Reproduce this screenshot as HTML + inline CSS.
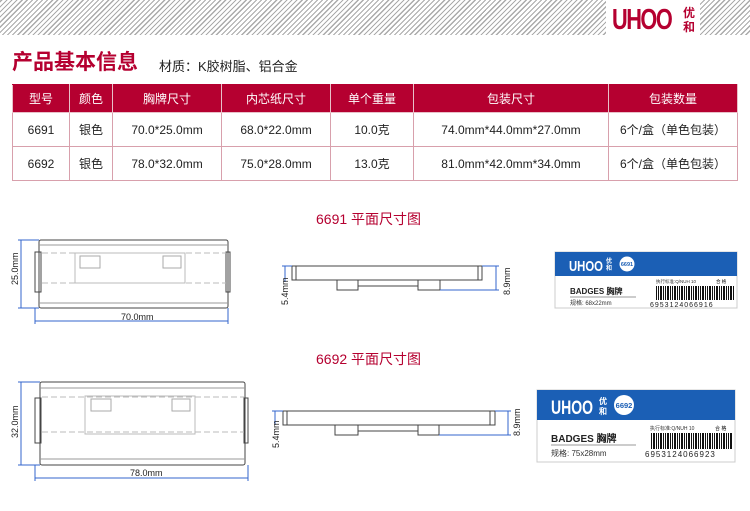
<!DOCTYPE html>
<html><head><meta charset="utf-8"><style>
body{margin:0;width:750px;height:511px;background:#fff;position:relative;overflow:hidden;font-family:"Liberation Sans","Noto Sans CJK SC",sans-serif}
.a{position:absolute}
table{position:absolute;left:12px;top:84px;border-collapse:collapse;font-size:12px;color:#222}
td{border:1px solid #d8a0ac;text-align:center;padding:0}
tr.h td{background:#b50030;color:#fff;height:27px;border-color:#e8c0c8;border-top-color:#b50030}
tr.r td{height:33px}
.t{color:#b50030;font-size:14px}
</style></head><body>
<div class="a" style="left:0;top:0;width:750px;height:35px;background:repeating-linear-gradient(-45deg,#fff 0 2.4px,#aaa 2.4px 3.6px)"></div>
<div class="a" style="left:606px;top:0;width:94px;height:36px;background:#fff"></div>
<div class="a" style="left:612px;top:4px;font-size:29px;font-weight:bold;color:#b50030;letter-spacing:-2px;transform:scaleX(0.75);transform-origin:left;line-height:32px">UHOO</div>
<div class="a" style="left:683px;top:6px;font-size:12px;font-weight:bold;color:#b50030;line-height:14px;width:13px">优和</div>
<div class="a" style="left:12px;top:46px;font-size:21px;font-weight:bold;color:#b50030">产品基本信息</div>
<div class="a" style="left:159px;top:56px;font-size:13px;color:#222">材质：K胶树脂、铝合金</div>
<table>
<tr class="h"><td style="width:56px">型号</td><td style="width:42px">颜色</td><td style="width:108px">胸牌尺寸</td><td style="width:108px">内芯纸尺寸</td><td style="width:82px">单个重量</td><td style="width:194px">包装尺寸</td><td style="width:128px">包装数量</td></tr>
<tr class="r"><td>6691</td><td>银色</td><td>70.0*25.0mm</td><td>68.0*22.0mm</td><td>10.0克</td><td>74.0mm*44.0mm*27.0mm</td><td>6个/盒（单色包装）</td></tr>
<tr class="r"><td>6692</td><td>银色</td><td>78.0*32.0mm</td><td>75.0*28.0mm</td><td>13.0克</td><td>81.0mm*42.0mm*34.0mm</td><td>6个/盒（单色包装）</td></tr>
</table>
<div class="a t" style="left:316px;top:209px">6691 平面尺寸图</div>
<div class="a t" style="left:316px;top:349px">6692 平面尺寸图</div>
<svg class="a" style="left:0;top:0" width="750" height="511" font-family="Liberation Sans" font-size="9">
<defs><pattern id="bc" width="7" height="10" patternUnits="userSpaceOnUse"><rect x="0" width="1" height="10" fill="#111"/><rect x="2" width="2" height="10" fill="#111"/><rect x="5" width="1" height="10" fill="#111"/></pattern></defs>
<g fill="none" stroke="#444" stroke-width="1">
<rect x="39" y="240" width="189" height="68" rx="2"/>
<line x1="39" y1="245" x2="228" y2="245" stroke="#999"/><line x1="39" y1="303" x2="228" y2="303" stroke="#999"/>
<rect x="35" y="252" width="6" height="40"/><rect x="226" y="252" width="4" height="40"/>
<line x1="42" y1="253" x2="226" y2="253" stroke="#bbb" stroke-dasharray="6 3"/><line x1="42" y1="283" x2="226" y2="283" stroke="#bbb" stroke-dasharray="6 3"/>
<rect x="75" y="253" width="110" height="30" stroke="#bbb"/><rect x="80" y="256" width="20" height="12" stroke="#aaa"/><rect x="163" y="256" width="18" height="12" stroke="#aaa"/>
<rect x="40" y="382" width="205" height="83" rx="2"/>
<line x1="40" y1="388" x2="245" y2="388" stroke="#999"/><line x1="40" y1="459" x2="245" y2="459" stroke="#999"/>
<rect x="35" y="398" width="6" height="45"/><rect x="244" y="398" width="4" height="45"/>
<line x1="42" y1="397" x2="244" y2="397" stroke="#bbb" stroke-dasharray="6 3"/><line x1="42" y1="432" x2="244" y2="432" stroke="#bbb" stroke-dasharray="6 3"/>
<rect x="85" y="396" width="110" height="38" stroke="#bbb"/><rect x="91" y="399" width="20" height="12" stroke="#aaa"/><rect x="172" y="399" width="18" height="12" stroke="#aaa"/>
<rect x="292" y="266" width="190" height="14"/><line x1="296" y1="266" x2="296" y2="280"/><line x1="478" y1="266" x2="478" y2="280"/>
<rect x="337" y="280" width="21" height="10"/><rect x="418" y="280" width="22" height="10"/><line x1="358" y1="286" x2="418" y2="286"/>
<rect x="283" y="411" width="212" height="14"/><line x1="287" y1="411" x2="287" y2="425"/><line x1="490" y1="411" x2="490" y2="425"/>
<rect x="335" y="425" width="23" height="10"/><rect x="418" y="425" width="21" height="10"/><line x1="358" y1="431" x2="418" y2="431"/>
</g>
<g stroke="#3366cc" fill="none" stroke-width="1">
<line x1="21" y1="240" x2="21" y2="308"/><line x1="18" y1="240" x2="39" y2="240"/><line x1="18" y1="308" x2="39" y2="308"/>
<line x1="35" y1="321" x2="228" y2="321"/><line x1="35" y1="308" x2="35" y2="324"/><line x1="228" y1="308" x2="228" y2="324"/>
<line x1="21" y1="382" x2="21" y2="465"/><line x1="18" y1="382" x2="40" y2="382"/><line x1="18" y1="465" x2="40" y2="465"/>
<line x1="35" y1="478" x2="248" y2="478"/><line x1="35" y1="465" x2="35" y2="481"/><line x1="248" y1="465" x2="248" y2="481"/>
<line x1="285" y1="266" x2="285" y2="282"/><line x1="282" y1="266" x2="292" y2="266"/>
<line x1="496" y1="266" x2="496" y2="290"/><line x1="440" y1="290" x2="499" y2="290"/><line x1="482" y1="266" x2="499" y2="266"/>
<line x1="275" y1="411" x2="275" y2="425"/><line x1="272" y1="411" x2="283" y2="411"/>
<line x1="508" y1="411" x2="508" y2="435"/><line x1="439" y1="435" x2="511" y2="435"/><line x1="495" y1="411" x2="511" y2="411"/>
</g>
<g fill="#222">
<text x="121" y="320">70.0mm</text><text x="130" y="476">78.0mm</text>
<text transform="translate(18,285) rotate(-90)">25.0mm</text>
<text transform="translate(18,438) rotate(-90)">32.0mm</text>
<text transform="translate(288,305) rotate(-90)">5.4mm</text>
<text transform="translate(279,448) rotate(-90)">5.4mm</text>
<text transform="translate(510,295) rotate(-90)">8.9mm</text>
<text transform="translate(520,436) rotate(-90)">8.9mm</text>
</g>
<rect x="555" y="252" width="182" height="56" fill="#fff" stroke="#ccc"/>
<rect x="555" y="252" width="182" height="24" fill="#1b5fb5"/>
<text x="569" y="271" fill="#fff" font-size="15" font-weight="bold" textLength="34" lengthAdjust="spacingAndGlyphs">UHOO</text>
<text x="606" y="263" fill="#fff" font-size="6" font-weight="bold">优</text><text x="606" y="270" fill="#fff" font-size="6" font-weight="bold">和</text>
<circle cx="627" cy="264" r="7.5" fill="#fff"/><text x="627" y="266" text-anchor="middle" fill="#1b5fb5" font-size="5.5" font-weight="bold">6691</text>
<text x="570" y="294" font-size="8" font-weight="bold" fill="#222">BADGES 胸牌</text>
<line x1="570" y1="297" x2="636" y2="297" stroke="#999"/>
<text x="570" y="305" font-size="6" fill="#333">规格: 68x22mm</text>
<text x="656" y="283" font-size="4.5" fill="#333">执行标准:Q/NUH 10</text><text x="716" y="283" font-size="4.5">合 格</text>
<rect x="656" y="286" width="78" height="14" fill="url(#bc)"/>
<text x="650" y="307" font-size="7" fill="#222" letter-spacing="1">6953124066916</text>
<rect x="537" y="390" width="198" height="72" fill="#fff" stroke="#ccc"/>
<rect x="537" y="390" width="198" height="30" fill="#1b5fb5"/>
<text x="551" y="414" fill="#fff" font-size="19" font-weight="bold" textLength="42" lengthAdjust="spacingAndGlyphs">UHOO</text>
<text x="599" y="404" fill="#fff" font-size="8" font-weight="bold">优</text><text x="599" y="414" fill="#fff" font-size="8" font-weight="bold">和</text>
<circle cx="624" cy="405" r="10" fill="#fff"/><text x="624" y="408" text-anchor="middle" fill="#1b5fb5" font-size="7.5" font-weight="bold">6692</text>
<text x="551" y="442" font-size="10" font-weight="bold" fill="#222">BADGES 胸牌</text>
<line x1="551" y1="445" x2="636" y2="445" stroke="#999"/>
<text x="551" y="456" font-size="8" fill="#333">规格: 75x28mm</text>
<text x="650" y="430" font-size="5" fill="#333">执行标准:Q/NUH 10</text><text x="715" y="430" font-size="5">合 格</text>
<rect x="650" y="433" width="82" height="16" fill="url(#bc)"/>
<text x="645" y="457" font-size="8" fill="#222" letter-spacing="1">6953124066923</text>
</svg>
</body></html>
